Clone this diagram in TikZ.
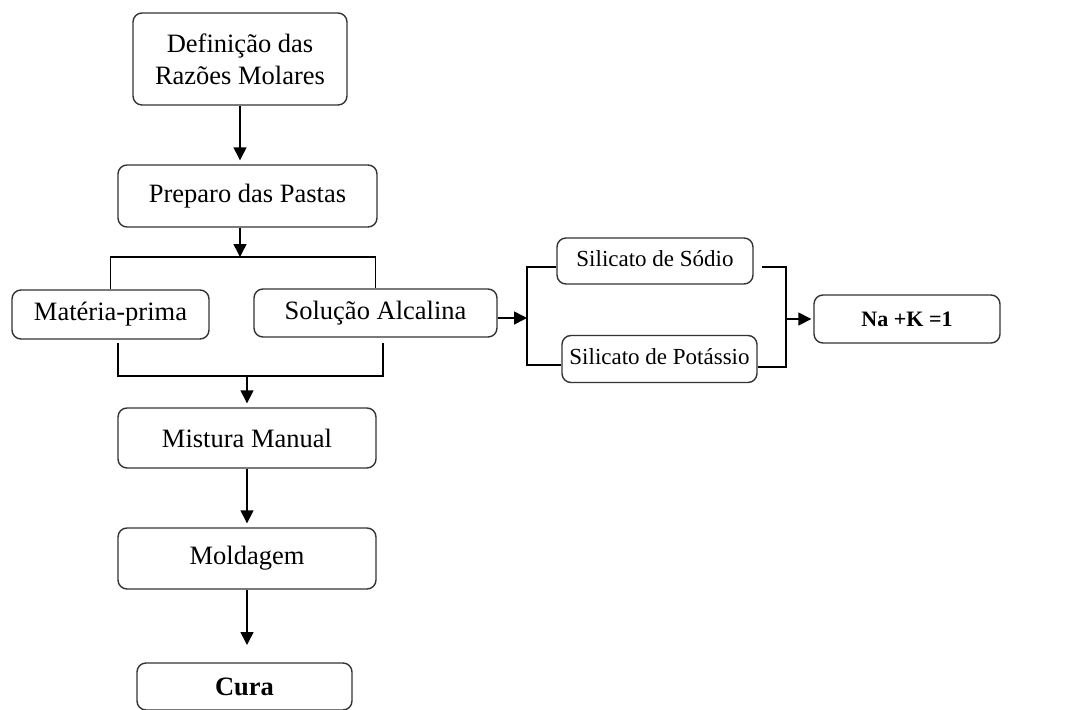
\documentclass[tikz,border=0pt]{standalone}
\usepackage{fontspec}
\setmainfont{Liberation Serif}
\usetikzlibrary{arrows.meta}
\begin{document}
\begin{tikzpicture}[x=1pt,y=-1pt,
  box/.style={draw=black!80,line width=1.4pt,rounded corners=9pt,inner sep=0pt,
    font=\fontsize{26.5}{32}\selectfont,align=center},
  small/.style={font=\fontsize{23}{28}\selectfont,text height=16pt,text depth=5pt},
  conn/.style={line width=1.5pt,draw=black},
  arr/.style={conn,-{Triangle[length=13pt,width=13pt]}}]
\useasboundingbox (0,0) rectangle (1078,709);
\node[box,minimum width=214pt,minimum height=92pt] (def) at (240,59) {Definição das\\Razões Molares};
\node[box,minimum width=259pt,minimum height=62pt] (prep) at (247.5,196) {Preparo das Pastas};
\node[box,minimum width=197pt,minimum height=49pt,text height=18pt,text depth=6pt] (mat) at (110.5,314.5) {Matéria-prima};
\node[box,minimum width=243pt,minimum height=48pt,text height=18pt,text depth=6pt] (sol) at (375.5,313) {Solução Alcalina};
\node[box,minimum width=258pt,minimum height=60pt] (mist) at (247,438) {Mistura Manual};
\node[box,minimum width=258pt,minimum height=61pt] (mold) at (247,558.5) {Moldagem};
\node[box,minimum width=215pt,minimum height=47pt] (cura) at (244.5,686.5) {\bfseries Cura};
\node[box,small,minimum width=196pt,minimum height=46pt] (sod) at (655,261) {Silicato de Sódio};
\node[box,small,minimum width=195pt,minimum height=47pt] (pot) at (659.5,359) {Silicato de Potássio};
\node[box,minimum width=186pt,minimum height=48pt,font=\fontsize{22}{26}\selectfont\bfseries] (nak) at (907,319) {Na +K =1};
% coordinates
\coordinate (ctop) at (240,257);
\coordinate (bl) at (118,343);
\coordinate (br) at (383,343);
\coordinate (cbot) at (247,376);
\coordinate (cl) at (527,318);
\coordinate (sodl) at (527,267);
\coordinate (potl) at (527,365);
\coordinate (sodr) at (762,267);
\coordinate (cr) at (786,319);
\coordinate (potr) at (786,367);
\coordinate (curatip) at (247,645);
% connectors
\draw[arr,shorten >=4pt] (def.south) -- (def.south |- prep.north);
\draw[arr] (prep.south -| ctop) -- (ctop);
\draw[conn] (mat.north) |- (ctop) -| (sol.north);
\draw[conn] (bl) |- (cbot) -| (br);
\draw[arr,shorten >=4pt] (cbot) -- (cbot |- mist.north);
\draw[arr,shorten >=4pt] (mist.south) -- (mold.north);
\draw[arr] (mold.south) -- (curatip);
\draw[arr] (sol.east |- cl) -- (cl);
\draw[conn] (sod.west |- sodl) -- (sodl) -- (potl) -- (pot.west |- potl);
\draw[conn] (sodr) -| (potr) -- (pot.east |- potr);
\draw[arr,shorten >=2pt] (cr) -- (nak.west |- cr);
\end{tikzpicture}
\end{document}
